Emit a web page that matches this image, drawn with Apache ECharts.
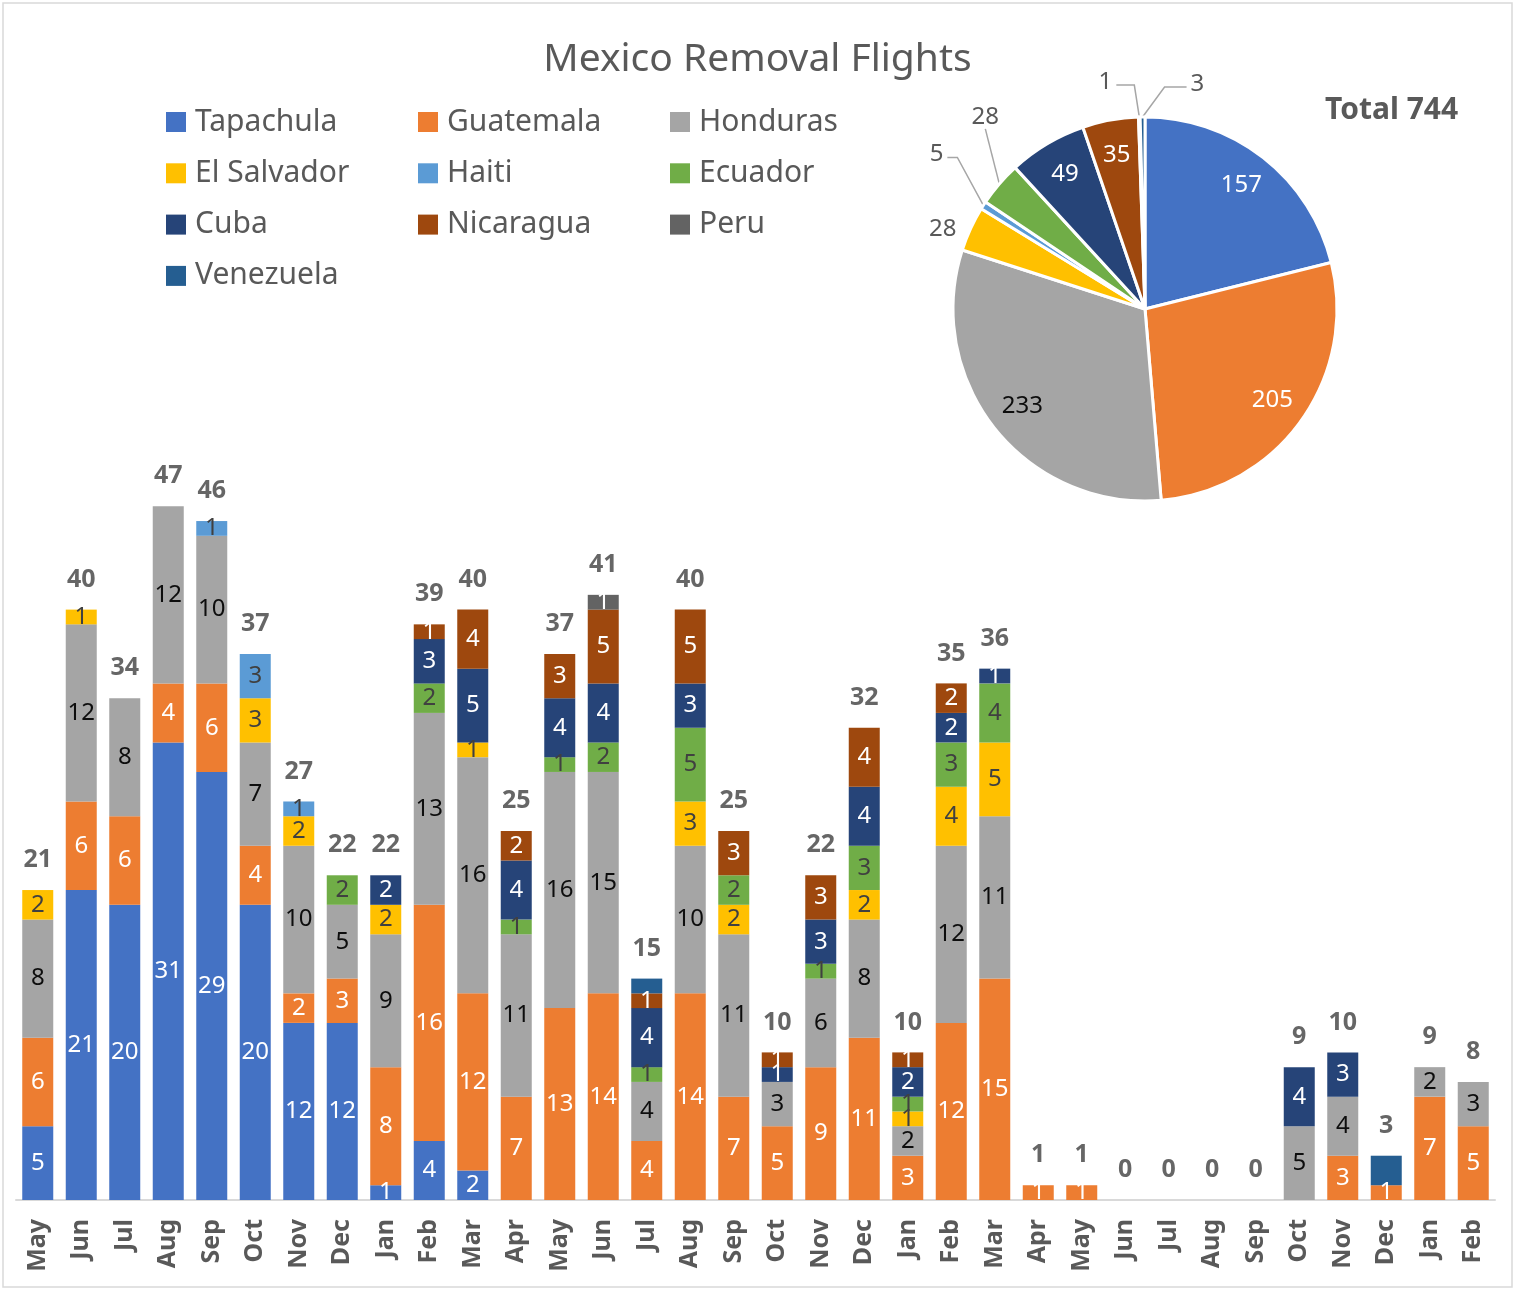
<!DOCTYPE html>
<html>
<head>
<meta charset="utf-8">
<title>Mexico Removal Flights</title>
<script src="https://cdn.jsdelivr.net/npm/echarts@6/dist/echarts.min.js"></script>
<style>
  html, body { margin: 0; padding: 0; background: #fff; }
  #chart { width: 1515px; height: 1290px; }
</style>
</head>
<body>
<div id="chart"></div>
<script>
// May 2020 .. Feb 2023
const months = ['May', 'Jun', 'Jul', 'Aug', 'Sep', 'Oct', 'Nov', 'Dec',
  'Jan', 'Feb', 'Mar', 'Apr', 'May', 'Jun', 'Jul', 'Aug', 'Sep', 'Oct', 'Nov', 'Dec',
  'Jan', 'Feb', 'Mar', 'Apr', 'May', 'Jun', 'Jul', 'Aug', 'Sep', 'Oct', 'Nov', 'Dec',
  'Jan', 'Feb']

const tapachula = [5, 21, 20, 31, 29, 20, 12, 12, 1, 4, 2, 0, 0, 0, 0, 0, 0, 0, 0, 0, 0, 0, 0, 0, 0, 0, 0, 0, 0, 0, 0, 0, 0, 0]
const guatemala = [6, 6, 6, 4, 6, 4, 2, 3, 8, 16, 12, 7, 13, 14, 4, 14, 7, 5, 9, 11, 3, 12, 15, 1, 1, 0, 0, 0, 0, 0, 3, 1, 7, 5]
const honduras = [8, 12, 8, 12, 10, 7, 10, 5, 9, 13, 16, 11, 16, 15, 4, 10, 11, 3, 6, 8, 2, 12, 11, 0, 0, 0, 0, 0, 0, 5, 4, 0, 2, 3]
const elSalvador = [2, 1, 0, 0, 0, 3, 2, 0, 2, 0, 1, 0, 0, 0, 0, 3, 2, 0, 0, 2, 1, 4, 5, 0, 0, 0, 0, 0, 0, 0, 0, 0, 0, 0]
const haiti = [0, 0, 0, 0, 1, 3, 1, 0, 0, 0, 0, 0, 0, 0, 0, 0, 0, 0, 0, 0, 0, 0, 0, 0, 0, 0, 0, 0, 0, 0, 0, 0, 0, 0]
const ecuador = [0, 0, 0, 0, 0, 0, 0, 2, 0, 2, 0, 1, 1, 2, 1, 5, 2, 0, 1, 3, 1, 3, 4, 0, 0, 0, 0, 0, 0, 0, 0, 0, 0, 0]
const cuba = [0, 0, 0, 0, 0, 0, 0, 0, 2, 3, 5, 4, 4, 4, 4, 3, 0, 1, 3, 4, 2, 2, 1, 0, 0, 0, 0, 0, 0, 4, 3, 0, 0, 0]
const nicaragua = [0, 0, 0, 0, 0, 0, 0, 0, 0, 1, 4, 2, 3, 5, 1, 5, 3, 1, 3, 4, 1, 2, 0, 0, 0, 0, 0, 0, 0, 0, 0, 0, 0, 0]
const peru = [0, 0, 0, 0, 0, 0, 0, 0, 0, 0, 0, 0, 0, 1, 0, 0, 0, 0, 0, 0, 0, 0, 0, 0, 0, 0, 0, 0, 0, 0, 0, 0, 0, 0]
const venezuela = [0, 0, 0, 0, 0, 0, 0, 0, 0, 0, 0, 0, 0, 0, 1, 0, 0, 0, 0, 0, 0, 0, 0, 0, 0, 0, 0, 0, 0, 0, 0, 2, 0, 0]

// totals printed above each bar
const totals = [21, 40, 34, 47, 46, 37, 27, 22, 22, 39, 40, 25, 37, 41, 15, 40, 25, 10, 22, 32, 10, 35, 36, 1, 1, 0, 0, 0, 0, 9, 10, 3, 9, 8]

// pie (clockwise from 12 o'clock)
const pieNames = ['Tapachula', 'Guatemala', 'Honduras', 'El Salvador', 'Haiti', 'Ecuador', 'Cuba', 'Nicaragua', 'Peru', 'Venezuela']
const pieValues = [157, 205, 233, 28, 5, 28, 49, 35, 1, 3]

const seriesNames = pieNames
const seriesData = [tapachula, guatemala, honduras, elSalvador, haiti, ecuador, cuba, nicaragua, peru, venezuela]
const colorList = ['#4472C4', '#ED7D31', '#A5A5A5', '#FFC000', '#5B9BD5', '#70AD47', '#264478', '#9E480E', '#636363', '#255E91']
const labelColors = ['#fff', '#fff', '#0d0d0d', '#404040', '#404040', '#404040', '#fff', '#fff', '#fff', null]

const FONT = 'Noto Sans'
const PIE_CENTER = [1145, 309]
const PIE_R = 192

// small slices get outside labels; offsets for the leader lines
const outerLabels = {
  3: { noLine: true, dx: -14 },
  4: { up: [-26, -48], side: -10 },
  5: { up: [-14, -55], side: 0 },
  8: { up: [-5, -32], side: -18 },
  9: { up: [22, -30], side: 22 }
}

const chart = echarts.init(document.getElementById('chart'))

const barSeries = seriesNames.map((name, i) => ({
  name: name,
  type: 'bar',
  stack: 'flights',
  data: seriesData[i],
  barWidth: 31,
  barGap: '-100%',
  itemStyle: { color: colorList[i] },
  label: {
    show: labelColors[i] !== null,
    position: 'inside',
    color: labelColors[i] || '#fff',
    fontFamily: FONT,
    fontSize: 24,
    formatter: p => (p.value ? p.value : '')
  }
}))

chart.setOption({
  animation: false,
  color: colorList,
  textStyle: { fontFamily: FONT },
  graphic: [{
    type: 'rect',
    shape: { x: 3, y: 3, width: 1509, height: 1284 },
    style: { fill: 'none', stroke: '#d9d9d9', lineWidth: 1.5 },
    silent: true
  }],
  title: [{
    text: 'Mexico Removal Flights',
    left: 'center',
    top: 40,
    padding: 0,
    textStyle: { color: '#595959', fontSize: 39, fontWeight: 'normal', fontFamily: FONT }
  }, {
    text: 'Total ' + pieValues.reduce((a, b) => a + b, 0),
    left: 1325,
    top: 95,
    padding: 0,
    textStyle: { color: '#595959', fontSize: 30, fontWeight: 'bold', fontFamily: FONT }
  }],
  legend: [
    ['Tapachula', 'El Salvador', 'Cuba', 'Venezuela'],
    ['Guatemala', 'Haiti', 'Nicaragua'],
    ['Honduras', 'Ecuador', 'Peru']
  ].map((names, col) => ({
    data: names,
    orient: 'vertical',
    left: 166 + col * 252,
    top: 106,
    padding: 0,
    itemWidth: 20,
    itemHeight: 20,
    itemGap: 19.3,
    icon: 'rect',
    selectedMode: false,
    textStyle: {
      color: '#595959',
      fontSize: 30,
      lineHeight: 32,
      fontFamily: FONT,
      padding: [0, 0, 0, 4]
    }
  })),
  grid: {
    left: 16,
    right: 20,
    top: 462,
    bottom: 90
  },
  xAxis: {
    type: 'category',
    data: months,
    axisLine: { lineStyle: { color: '#d9d9d9', width: 2 } },
    axisTick: { show: false },
    axisLabel: {
      interval: 0,
      rotate: 90,
      margin: 19,
      color: '#595959',
      fontSize: 25,
      fontWeight: 'bold',
      fontFamily: FONT
    }
  },
  yAxis: {
    type: 'value',
    min: 0,
    max: 50,
    show: false,
    splitLine: { show: false }
  },
  series: barSeries.concat([{
    name: 'Total',
    type: 'scatter',
    data: totals,
    symbolSize: 1,
    itemStyle: { color: 'rgba(0,0,0,0)' },
    silent: true,
    label: {
      show: true,
      position: 'top',
      distance: 17,
      color: '#404040',
      fontSize: 25,
      fontWeight: 'bold',
      fontFamily: FONT
    }
  }, {
    name: 'pie',
    type: 'pie',
    center: PIE_CENTER,
    radius: PIE_R,
    startAngle: 90,
    clockwise: true,
    avoidLabelOverlap: false,
    silent: true,
    itemStyle: { borderColor: '#fff', borderWidth: 3 },
    data: pieNames.map((n, i) => ({
      name: n,
      value: pieValues[i],
      itemStyle: { color: colorList[i] },
      label: { show: !!outerLabels[i] },
      labelLine: { show: !!outerLabels[i] && !outerLabels[i].noLine }
    })),
    label: {
      position: 'outside',
      formatter: '{c}',
      color: '#595959',
      fontSize: 24,
      fontFamily: FONT
    },
    labelLine: {
      length: 20,
      length2: 10,
      lineStyle: { color: '#a6a6a6', width: 1.5 }
    },
    labelLayout: function (p) {
      const cfg = outerLabels[p.dataIndex]
      if (!cfg || !p.labelLinePoints) return {}
      const p0 = p.labelLinePoints[0]
      if (cfg.noLine) {
        return { x: p0[0] + cfg.dx, y: p0[1], align: 'right', verticalAlign: 'middle' }
      }
      const p1 = [p0[0] + cfg.up[0], p0[1] + cfg.up[1]]
      const p2 = [p1[0] + cfg.side, p1[1]]
      if (cfg.side === 0) {
        return { x: p2[0], y: p2[1], align: 'center', verticalAlign: 'bottom', labelLinePoints: [p0, p1, p2] }
      }
      const right = cfg.side > 0
      return {
        x: p2[0] + (right ? 4 : -4),
        y: p2[1] - 3,
        align: right ? 'left' : 'right',
        verticalAlign: 'middle',
        labelLinePoints: [p0, p1, p2]
      }
    }
  }, {
    // transparent copy carrying the inner labels further out than mid-radius
    name: 'pieLabels',
    type: 'pie',
    center: PIE_CENTER,
    radius: [PIE_R * 0.6, PIE_R],
    startAngle: 90,
    clockwise: true,
    silent: true,
    z: 3,
    itemStyle: { color: 'rgba(0,0,0,0)', borderWidth: 0 },
    data: pieNames.map((n, i) => ({
      name: n,
      value: pieValues[i],
      label: {
        show: !outerLabels[i],
        color: i === 2 ? '#0d0d0d' : '#fff'
      }
    })),
    label: {
      position: 'inside',
      formatter: '{c}',
      fontSize: 24,
      fontFamily: FONT
    },
    labelLine: { show: false }
  }])
})
</script>
</body>
</html>
